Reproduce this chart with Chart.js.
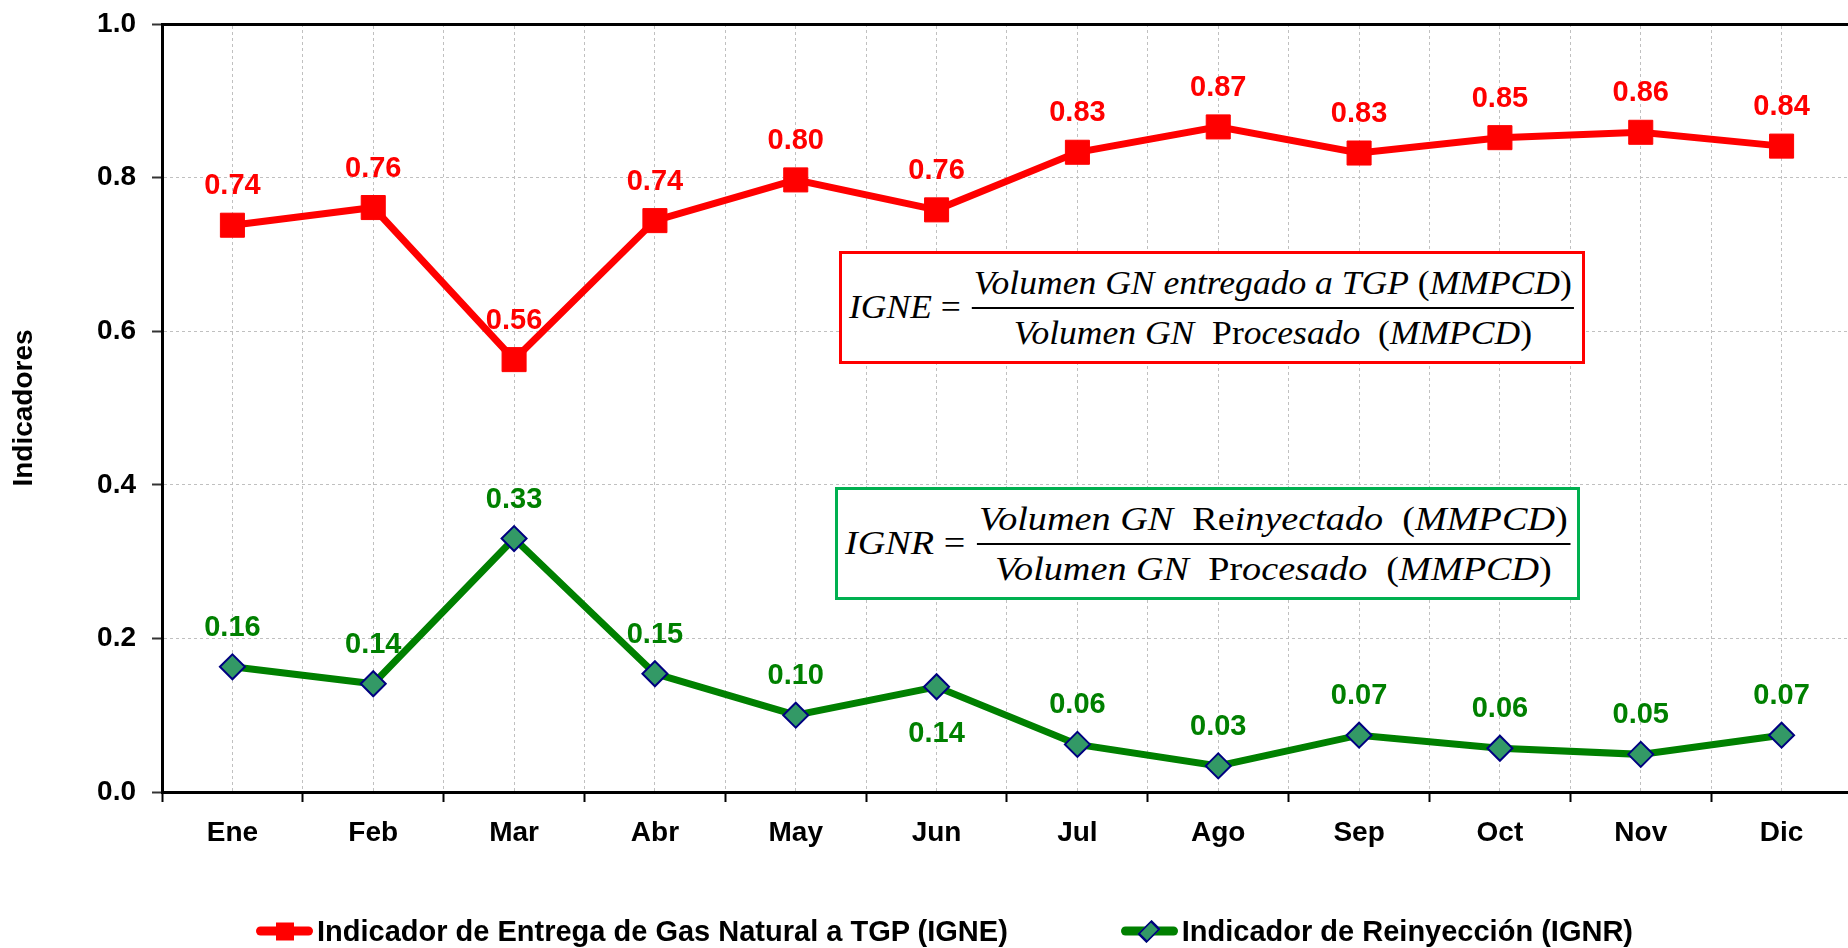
<!DOCTYPE html>
<html lang="es">
<head>
<meta charset="utf-8">
<title>Indicadores IGNE / IGNR</title>
<script src="https://cdn.jsdelivr.net/npm/chart.js@4.4.1/dist/chart.umd.min.js"></script>
<style>
  html, body { margin: 0; padding: 0; background: #fff; overflow: hidden; }
  body { width: 1848px; height: 948px; position: relative; font-family: 'Liberation Sans', Arial, sans-serif; }
  #wrap { position: absolute; left: 0; top: 0; width: 1870px; height: 948px; }
  .formula { position: absolute; box-sizing: border-box; border: 3px solid; background: #fff;
             font-family: 'Liberation Serif', 'Times New Roman', serif; font-size: 33px; color: #000;
             display: flex; align-items: center; padding-left: 7px; }
  .eq { display: inline-flex; align-items: center; transform-origin: left center; white-space: nowrap; }
  .frac { display: inline-flex; flex-direction: column; align-items: center; margin-left: 10px; }
  .frac .num { padding: 0 2px 5px; line-height: 38px; }
  .frac .den { border-top: 2px solid #000; padding: 5px 2px 0; line-height: 38px; align-self: stretch; text-align: center; }
  #legend { position: absolute; left: 256px; top: 931px; transform: translateY(-50%);
            display: flex; align-items: center; font: bold 29px 'Liberation Sans', Arial, sans-serif; color: #000; white-space: nowrap; }
  .item { display: flex; align-items: center; }
  .item + .item { margin-left: 113px; }
  .mk { position: relative; width: 57px; height: 24px; margin-right: 4px; }
  .mk .ln { position: absolute; left: 0; right: 0; top: 50%; height: 9px; margin-top: -4.5px; border-radius: 5px; }
  .mk .sq { position: absolute; left: 50%; top: 50%; width: 18px; height: 18px; margin: -9px 0 0 -9px; }
  .mk .dm { position: absolute; left: 50%; top: 50%; width: 12px; height: 12px; margin: -8px 0 0 -8px;
            border: 2px solid #000080; transform: rotate(45deg) scale(0.8, 1.25); }
</style>
</head>
<body>
<div id="wrap"><canvas id="grafico" width="1870" height="948"></canvas></div>

<div class="formula" style="left:839px; top:251px; width:746px; height:113px; border-color:#ff0000;">
  <div class="eq">
    <span><i>IGNE</i> =</span>
    <span class="frac">
      <span class="num"><i>Volumen GN</i> <i>entregado a TGP</i> (<i>MMPCD</i>)</span>
      <span class="den"><i>Volumen GN</i>&nbsp; Pr<i>ocesado</i>&nbsp; (<i>MMPCD</i>)</span>
    </span>
  </div>
</div>
<div class="formula" style="left:835px; top:487px; width:745px; height:113px; border-color:#00b050;">
  <div class="eq">
    <span><i>IGNR</i> =</span>
    <span class="frac">
      <span class="num"><i>Volumen GN</i>&nbsp; Re<i>inyectado</i>&nbsp; (<i>MMPCD</i>)</span>
      <span class="den"><i>Volumen GN</i>&nbsp; Pr<i>ocesado</i>&nbsp; (<i>MMPCD</i>)</span>
    </span>
  </div>
</div>

<div id="legend"></div>

<script>
// Datos del gráfico
const meses = ['Ene', 'Feb', 'Mar', 'Abr', 'May', 'Jun', 'Jul', 'Ago', 'Sep', 'Oct', 'Nov', 'Dic'];
const valoresIGNE = [0.738, 0.761, 0.563, 0.744, 0.797, 0.758, 0.833, 0.866, 0.832, 0.852, 0.859, 0.841];
const valoresIGNR = [0.163, 0.141, 0.330, 0.154, 0.100, 0.137, 0.062, 0.034, 0.074, 0.057, 0.049, 0.074];
const etiquetaIGNE = 'Indicador de Entrega de Gas Natural a TGP (IGNE)';
const etiquetaIGNR = 'Indicador de Reinyección (IGNR)';
const tituloEjeY = 'Indicadores';

const fuente = "'Liberation Sans', Arial, sans-serif";
const colorGrid = '#c0c0c0';

// Etiquetas de valor encima (o debajo) de cada punto
const etiquetasDatos = {
    id: 'etiquetasDatos',
    afterDatasetsDraw(chart) {
        const ctx = chart.ctx;
        ctx.save();
        ctx.font = 'bold 29px ' + fuente;
        ctx.textAlign = 'center';
        ctx.textBaseline = 'middle';
        chart.data.datasets.forEach((ds, i) => {
            const meta = chart.getDatasetMeta(i);
            meta.data.forEach((pt, j) => {
                const abajo = (ds.etiquetasAbajo || []).includes(j);
                ctx.fillStyle = ds.colorEtiqueta;
                ctx.fillText(ds.data[j].toFixed(2), pt.x, abajo ? pt.y + 47 : pt.y - 39);
            });
        });
        ctx.restore();
    }
};

const ctxGrafico = document.getElementById('grafico').getContext('2d');
const grafico = new Chart(ctxGrafico, {
    type: 'line',
    data: {
        labels: meses,
        datasets: [{
            label: etiquetaIGNE,
            data: valoresIGNE,
            borderColor: '#ff0000',
            backgroundColor: '#ff0000',
            borderWidth: 7,
            pointStyle: 'rect',
            pointRadius: 17,
            pointBorderWidth: 1,
            pointBackgroundColor: '#ff0000',
            pointBorderColor: '#ff0000',
            tension: 0,
            fill: false,
            colorEtiqueta: '#ff0000'
        }, {
            label: etiquetaIGNR,
            data: valoresIGNR,
            borderColor: '#008000',
            backgroundColor: '#008000',
            borderWidth: 7,
            pointStyle: 'rectRot',
            pointRadius: 12.5,
            pointBorderWidth: 2,
            pointBackgroundColor: '#339966',
            pointBorderColor: '#000080',
            tension: 0,
            fill: false,
            colorEtiqueta: '#008000',
            etiquetasAbajo: [5]
        }]
    },
    options: {
        responsive: false,
        animation: false,
        events: [],
        layout: { padding: { left: 0, top: 24, right: 5, bottom: 96 } },
        plugins: {
            legend: { display: false },
            tooltip: { enabled: false }
        },
        scales: {
            x: {
                type: 'category',
                offset: true,
                grid: {
                    offset: true,
                    color: colorGrid,
                    tickLength: 10,
                    tickColor: '#000',
                    tickWidth: 2,
                    tickBorderDash: []
                },
                border: { color: '#000', width: 3, dash: [3, 3] },
                ticks: { color: '#000', font: { family: fuente, size: 28, weight: 'bold' }, padding: 14, maxRotation: 0 },
                afterFit: s => { s.height = 60; s.paddingLeft = 0; s.paddingRight = 0; }
            },
            x2: {
                type: 'category',
                position: 'top',
                labels: meses,
                offset: true,
                grid: { offset: false, color: colorGrid, drawTicks: false },
                border: { color: '#000', width: 3, dash: [3, 3] },
                ticks: { display: false },
                afterFit: s => { s.height = 0; s.paddingLeft = 0; s.paddingRight = 0; }
            },
            y: {
                min: 0,
                max: 1,
                ticks: {
                    stepSize: 0.2,
                    color: '#000',
                    padding: 16,
                    font: { family: fuente, size: 28, weight: 'bold' },
                    callback: v => Number(v).toFixed(1)
                },
                grid: {
                    color: colorGrid,
                    tickLength: 10,
                    tickColor: '#333',
                    tickWidth: 2,
                    tickBorderDash: []
                },
                border: { color: '#000', width: 3, dash: [3, 3] },
                title: {
                    display: true,
                    text: tituloEjeY,
                    color: '#000',
                    font: { family: fuente, size: 28, weight: 'bold' },
                    padding: { top: 7, bottom: 4 }
                },
                afterFit: s => { s.width = 162; s.paddingTop = 0; s.paddingBottom = 0; }
            }
        }
    },
    plugins: [etiquetasDatos]
});

// Leyenda en HTML a partir de los datasets
const leyenda = document.getElementById('legend');
grafico.data.datasets.forEach((ds, i) => {
    const item = document.createElement('div');
    item.className = 'item';
    const punto = i === 0
        ? `<span class="sq" style="background:${ds.pointBackgroundColor}"></span>`
        : `<span class="dm" style="background:${ds.pointBackgroundColor}"></span>`;
    item.innerHTML = `<span class="mk"><span class="ln" style="background:${ds.borderColor}"></span>${punto}</span><span>${ds.label}</span>`;
    leyenda.appendChild(item);
});

// Ajustar ancho de las fórmulas
document.querySelectorAll('.eq').forEach(eq => {
    const ancho = eq.getBoundingClientRect().width;
    eq.style.transform = `scaleX(${725 / ancho})`;
});
</script>
</body>
</html>
